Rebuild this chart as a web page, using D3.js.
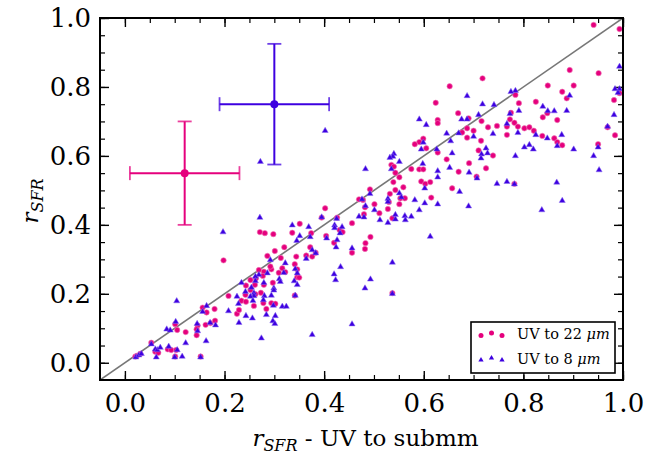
<!DOCTYPE html>
<html>
<head>
<meta charset="utf-8">
<script src="https://d3js.org/d3.v7.min.js"></script>
<style>
  body { margin: 0; background: #fff; }
  text { font-family: "DejaVu Serif", serif; }
</style>
</head>
<body>
<svg id="chart" width="670" height="462"></svg>
<script>
// ---- data ----
var xTicks = [0.0, 0.2, 0.4, 0.6, 0.8, 1.0];
var yTicks = [0.0, 0.2, 0.4, 0.6, 0.8, 1.0];

// UV to 22 micron (pink circles)
var pinkX = [0.198,0.208,0.225,0.229,0.234,0.243,0.156,0.164,0.180,0.101,0.105,0.122,0.146,0.144,0.144,0.162,0.172,0.181,0.053,0.086,0.093,0.103,0.061,0.067,0.101,0.152,0.021,0.024,0.031,0.252,
  0.402,0.351,0.336,0.374,0.271,0.281,0.298,0.320,0.301,0.286,0.313,0.372,0.383,0.376,0.344,0.364,0.404,0.420,0.431,0.437,0.341,0.346,0.316,0.322,0.309,0.294,0.292,0.279,0.277,0.269,0.346,0.350,0.263,0.261,0.243,0.297,0.279,0.242,0.273,0.262,0.252,0.278,0.259,0.294,0.302,0.284,0.341,0.395,0.426,
  0.624,0.669,0.628,0.628,0.599,0.591,0.582,0.605,0.628,0.646,0.670,0.535,0.540,0.543,0.551,0.575,0.591,0.599,0.539,0.595,0.603,0.613,0.559,0.543,0.657,0.532,0.553,0.562,0.615,0.492,0.470,0.478,0.482,0.501,0.530,0.551,0.528,0.511,0.480,0.537,0.456,0.493,0.483,0.482,0.456,0.537,
  0.941,0.993,0.951,0.893,0.901,0.878,0.887,0.849,0.718,0.825,0.791,0.784,0.775,0.773,0.848,0.839,0.868,0.782,0.789,0.767,0.747,0.729,0.716,0.690,0.802,0.812,0.982,0.993,
  0.700,0.687,0.677,0.767,0.821,0.838,0.862,0.868,0.878,0.687,0.715,0.710,0.739,0.691,0.725,0.706,0.782,0.950,0.984,0.969,0.652];
var pinkY = [0.297,0.194,0.142,0.153,0.180,0.177,0.160,0.146,0.156,0.112,0.095,0.089,0.108,0.097,0.080,0.110,0.115,0.122,0.058,0.039,0.037,0.037,0.032,0.029,0.018,0.018,0.018,0.020,0.026,0.240,
  0.448,0.403,0.377,0.376,0.379,0.376,0.373,0.335,0.324,0.310,0.304,0.335,0.319,0.308,0.308,0.311,0.368,0.348,0.385,0.379,0.286,0.271,0.274,0.263,0.261,0.271,0.279,0.264,0.252,0.269,0.248,0.247,0.245,0.226,0.224,0.232,0.226,0.197,0.203,0.199,0.211,0.173,0.165,0.173,0.171,0.156,0.195,0.421,0.421,
  0.754,0.724,0.704,0.695,0.650,0.640,0.634,0.622,0.610,0.590,0.554,0.574,0.569,0.551,0.538,0.562,0.561,0.561,0.524,0.526,0.519,0.524,0.509,0.501,0.506,0.490,0.477,0.477,0.479,0.503,0.474,0.472,0.451,0.460,0.466,0.460,0.446,0.434,0.431,0.419,0.405,0.365,0.347,0.330,0.319,0.202,
  0.980,0.968,0.840,0.849,0.804,0.786,0.767,0.804,0.825,0.757,0.753,0.777,0.725,0.706,0.724,0.712,0.704,0.696,0.685,0.685,0.687,0.683,0.701,0.709,0.680,0.683,0.762,0.782,
  0.673,0.680,0.668,0.661,0.673,0.658,0.651,0.640,0.631,0.653,0.644,0.616,0.601,0.579,0.564,0.540,0.519,0.634,0.660,0.683,0.802];

// UV to 8 micron (blue triangles)
var blueX = [0.104,0.102,0.084,0.091,0.122,0.163,0.145,0.146,0.171,0.182,0.164,0.156,0.208,0.229,0.243,0.225,0.234,0.228,0.242,0.053,0.061,0.065,0.071,0.088,0.063,0.100,0.115,0.152,0.022,0.028,0.033,0.105,
  0.272,0.271,0.336,0.369,0.351,0.345,0.372,0.395,0.421,0.421,0.432,0.436,0.425,0.405,0.426,0.424,0.376,0.383,0.364,0.433,0.420,0.423,0.292,0.322,0.319,0.310,0.312,0.342,0.346,0.340,0.346,0.286,0.269,0.262,0.279,0.262,0.254,0.299,0.299,0.259,0.259,0.252,0.280,0.278,0.294,0.257,0.298,0.316,0.324,0.342,0.256,0.284,0.302,0.297,0.301,0.274,0.376,
  0.591,0.605,0.646,0.654,0.670,0.599,0.595,0.626,0.657,0.652,0.540,0.538,0.532,0.551,0.598,0.535,0.628,0.628,0.483,0.602,0.492,0.551,0.555,0.528,0.528,0.582,0.602,0.628,0.476,0.483,0.501,0.591,0.470,0.480,0.512,0.528,0.543,0.543,0.562,0.575,0.563,0.613,0.456,0.537,0.493,0.482,0.537,0.456,0.672,
  0.993,0.984,0.993,0.990,0.982,0.969,0.893,0.887,0.862,0.849,0.839,0.784,0.775,0.791,0.773,0.767,0.741,0.718,0.710,0.687,0.687,0.676,
  0.700,0.739,0.789,0.825,0.848,0.877,0.802,0.812,0.820,0.868,0.725,0.728,0.716,0.715,0.784,0.901,0.941,0.950,0.952,0.691,0.707,0.747,0.767,0.782,0.867,0.690,0.878,0.837,
  0.197,0.402];
var blueY = [0.179,0.119,0.097,0.094,0.057,0.063,0.113,0.092,0.116,0.109,0.165,0.148,0.150,0.116,0.136,0.192,0.232,0.171,0.206,0.054,0.039,0.037,0.044,0.047,0.016,0.016,0.018,0.016,0.016,0.022,0.026,0.037,
  0.583,0.421,0.399,0.394,0.368,0.354,0.365,0.422,0.399,0.391,0.376,0.394,0.418,0.361,0.356,0.335,0.327,0.318,0.302,0.278,0.257,0.240,0.298,0.289,0.261,0.243,0.235,0.272,0.260,0.237,0.226,0.260,0.255,0.250,0.232,0.237,0.218,0.216,0.210,0.202,0.194,0.192,0.194,0.182,0.195,0.180,0.166,0.163,0.163,0.195,0.129,0.139,0.136,0.121,0.113,0.071,0.081,
  0.706,0.690,0.665,0.643,0.666,0.639,0.619,0.619,0.608,0.566,0.606,0.598,0.595,0.583,0.577,0.562,0.556,0.538,0.562,0.506,0.490,0.492,0.480,0.476,0.467,0.472,0.463,0.460,0.474,0.455,0.443,0.443,0.424,0.422,0.414,0.406,0.429,0.416,0.426,0.424,0.414,0.366,0.332,0.291,0.242,0.216,0.200,0.112,0.496,
  0.859,0.794,0.794,0.783,0.719,0.685,0.775,0.731,0.730,0.730,0.743,0.789,0.786,0.731,0.722,0.693,0.748,0.750,0.719,0.774,0.706,0.706,
  0.656,0.664,0.667,0.661,0.651,0.661,0.625,0.632,0.619,0.629,0.622,0.608,0.605,0.593,0.600,0.619,0.600,0.625,0.559,0.552,0.535,0.519,0.525,0.518,0.523,0.454,0.470,0.443,
  0.379,0.673];

// typical uncertainties: [x, y, xerr, yerr]
var errPink = [0.12, 0.55, 0.11, 0.15];
var errBlue = [0.30, 0.75, 0.11, 0.175];

var pinkColor = "#e5007d";
var blueColor = "#3d00e0";

// ---- layout ----
var svg = d3.select("#chart");
var plotL = 100, plotR = 623, plotT = 18, plotB = 380;

var x = d3.scaleLinear().domain([-0.05, 1.0]).range([plotL, plotR]);
var y = d3.scaleLinear().domain([-0.05, 1.0]).range([plotB, plotT]);

svg.append("defs").append("clipPath").attr("id", "clip")
  .append("rect").attr("x", plotL).attr("y", plotT)
  .attr("width", plotR - plotL).attr("height", plotB - plotT);

var minor = d3.range(0, 1.001, 0.05);

// minor ticks (all four sides, inward)
function minorAxis(gen, tx, ty) {
  svg.append("g").attr("transform", "translate(" + tx + "," + ty + ")")
    .call(gen.tickValues(minor).tickSize(-5).tickFormat(""))
    .call(function(g) { g.select(".domain").remove(); })
    .selectAll("line").attr("stroke-width", 1.2);
}
minorAxis(d3.axisBottom(x), 0, plotB);
minorAxis(d3.axisTop(x), 0, plotT);
minorAxis(d3.axisLeft(y), plotL, 0);
minorAxis(d3.axisRight(y), plotR, 0);

// major ticks
function majorAxis(gen, tx, ty, ticks, labels, pad) {
  var g = svg.append("g").attr("transform", "translate(" + tx + "," + ty + ")")
    .call(gen.tickValues(ticks).tickSize(-9).tickPadding(pad)
      .tickFormat(labels ? d3.format(".1f") : ""));
  g.select(".domain").remove();
  g.selectAll("line").attr("stroke-width", 1.4);
  g.selectAll("text").attr("font-size", 26).attr("fill", "#000")
    .style("font-family", "DejaVu Serif");
  return g;
}
majorAxis(d3.axisBottom(x), 0, plotB, xTicks, true, 14);
majorAxis(d3.axisTop(x), 0, plotT, xTicks, false, 0);
majorAxis(d3.axisLeft(y), plotL, 0, yTicks, true, 9);
majorAxis(d3.axisRight(y), plotR, 0, yTicks, false, 0);

// one-to-one line
svg.append("line").attr("clip-path", "url(#clip)")
  .attr("x1", x(-0.05)).attr("y1", y(-0.05))
  .attr("x2", x(1.0)).attr("y2", y(1.0))
  .attr("stroke", "#777").attr("stroke-width", 1.6);

var plot = svg.append("g").attr("clip-path", "url(#clip)");

// pink circles
plot.selectAll(".pink").data(d3.range(pinkX.length)).enter()
  .append("circle").attr("class", "pink")
  .attr("cx", function(i) { return x(pinkX[i]); })
  .attr("cy", function(i) { return y(pinkY[i]); })
  .attr("r", 2.7)
  .attr("fill", pinkColor)
  .attr("stroke", "#f07ab8").attr("stroke-width", 0.6);

// blue triangles
var tri = d3.symbol().type(d3.symbolTriangle).size(16);
plot.selectAll(".blue").data(d3.range(blueX.length)).enter()
  .append("path").attr("class", "blue")
  .attr("d", tri)
  .attr("transform", function(i) {
    return "translate(" + x(blueX[i]) + "," + y(blueY[i]) + ")";
  })
  .attr("fill", blueColor)
  .attr("stroke", "#8a6cf0").attr("stroke-width", 0.5);

// error-bar crosses
function errCross(e, col) {
  var g = svg.append("g");
  var cx = x(e[0]), cy = y(e[1]);
  var x0 = x(e[0] - e[2]), x1 = x(e[0] + e[2]);
  var y0 = y(e[1] - e[3]), y1 = y(e[1] + e[3]);
  g.append("line").attr("x1", x0).attr("x2", x1).attr("y1", cy).attr("y2", cy)
    .attr("stroke", col).attr("stroke-width", 2);
  g.append("line").attr("x1", cx).attr("x2", cx).attr("y1", y0).attr("y2", y1)
    .attr("stroke", col).attr("stroke-width", 2);
  [[x0, cy, "v"], [x1, cy, "v"], [cx, y0, "h"], [cx, y1, "h"]].forEach(function(c) {
    g.append("line")
      .attr("x1", c[2] === "v" ? c[0] : c[0] - 7)
      .attr("x2", c[2] === "v" ? c[0] : c[0] + 7)
      .attr("y1", c[2] === "v" ? c[1] - 7 : c[1])
      .attr("y2", c[2] === "v" ? c[1] + 7 : c[1])
      .attr("stroke", col).attr("stroke-width", 1.8).attr("opacity", 0.75);
  });
  g.append("circle").attr("cx", cx).attr("cy", cy).attr("r", 4).attr("fill", col);
}
errCross(errPink, pinkColor);
errCross(errBlue, blueColor);

// frame
svg.append("rect").attr("x", plotL).attr("y", plotT)
  .attr("width", plotR - plotL).attr("height", plotB - plotT)
  .attr("fill", "none").attr("stroke", "#000").attr("stroke-width", 2);

// axis labels
var xl = svg.append("text").attr("x", (plotL + plotR) / 2 + 4).attr("y", 446)
  .attr("text-anchor", "middle").attr("font-size", 23);
xl.append("tspan").attr("font-style", "italic").text("r");
xl.append("tspan").attr("font-style", "italic").attr("font-size", 16).attr("dy", 5).text("SFR");
xl.append("tspan").attr("dy", -5).text(" - UV to submm");

var yl = svg.append("text")
  .attr("transform", "translate(38," + ((plotT + plotB) / 2 + 2) + ") rotate(-90)")
  .attr("text-anchor", "middle").attr("font-size", 23);
yl.append("tspan").attr("font-style", "italic").text("r");
yl.append("tspan").attr("font-style", "italic").attr("font-size", 16).attr("dy", 5).text("SFR");

// legend
var lg = svg.append("g");
lg.append("rect").attr("x", 471).attr("y", 322).attr("width", 144).attr("height", 51)
  .attr("fill", "#fff").attr("stroke", "#000").attr("stroke-width", 1.6);
[481, 491.5, 502].forEach(function(px, k) {
  lg.append("circle").attr("cx", px).attr("cy", k === 1 ? 333 : 335.5).attr("r", 2.5).attr("fill", pinkColor);
  lg.append("path").attr("d", d3.symbol().type(d3.symbolTriangle).size(12))
    .attr("transform", "translate(" + px + "," + (k === 1 ? 358 : 360) + ")")
    .attr("fill", blueColor);
});
var t1 = lg.append("text").attr("x", 517).attr("y", 339).attr("font-size", 14.5);
t1.append("tspan").text("UV to 22 ");
t1.append("tspan").attr("font-style", "italic").text("μm");
var t2 = lg.append("text").attr("x", 517).attr("y", 364).attr("font-size", 14.5);
t2.append("tspan").text("UV to 8 ");
t2.append("tspan").attr("font-style", "italic").text("μm");
</script>
</body>
</html>
